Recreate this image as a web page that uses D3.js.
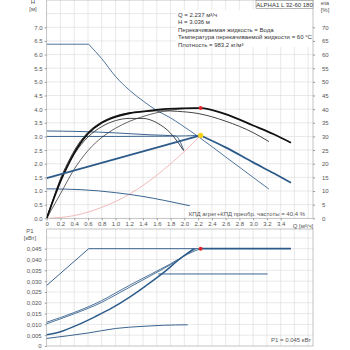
<!DOCTYPE html>
<html>
<head>
<meta charset="utf-8">
<script src="https://cdn.jsdelivr.net/npm/d3@7"></script>
<style>
  body { margin: 0; background: #fff; }
  svg { display: block; font-family: "Liberation Sans", Arial, sans-serif; }
  .tick text { fill: #555; font-size: 6px; }
  .tick line { stroke: #999; }
  .domain { display: none; }
  .info { fill: #333; font-size: 6px; }
</style>
</head>
<body>
<div id="chart"></div>
<script>
// ---- data ----
const qTicks   = [0, 0.2, 0.4, 0.6, 0.8, 1.0, 1.2, 1.4, 1.6, 1.8, 2.0, 2.2, 2.4, 2.6, 2.8, 3.0, 3.2, 3.4];
const qGrid    = [0.2, 0.4, 0.6, 0.8, 1.0, 1.2, 1.4, 1.6, 1.8, 2.0, 2.2, 2.4, 2.6, 2.8, 3.0, 3.2, 3.4, 3.6, 3.8];
const hTicks   = [0, 0.5, 1.0, 1.5, 2.0, 2.5, 3.0, 3.5, 4.0, 4.5, 5.0, 5.5, 6.0, 6.5, 7.0];
const hGrid    = [0.5, 1.0, 1.5, 2.0, 2.5, 3.0, 3.5, 4.0, 4.5, 5.0, 5.5, 6.0, 6.5, 7.0, 7.5];
const etaTicks = [0, 5, 10, 15, 20, 25, 30, 35, 40, 45, 50, 55, 60, 65, 70];
const pTicks   = [0, 0.005, 0.010, 0.015, 0.020, 0.025, 0.030, 0.035, 0.040, 0.045];
const pGrid    = [0.005, 0.010, 0.015, 0.020, 0.025, 0.030, 0.035, 0.040, 0.045, 0.050];

// H curves [Q m3/h, H m]
const hMax   = [[0, 6.38], [0.61, 6.38], [0.8, 5.85], [1.0, 5.2], [1.2, 4.7], [1.4, 4.3], [1.6, 3.95], [1.8, 3.68], [1.94, 3.45], [2.2, 3.0], [2.6, 2.25], [3.0, 1.5], [3.23, 1.07]];
const hCp32  = [[0, 3.2], [0.5, 3.18], [1.0, 3.13], [1.5, 3.06], [1.87, 3.02], [1.99, 2.5]];
const hCp30  = [[0, 3.0], [1.0, 3.0], [1.8, 3.01], [2.237, 3.036]];
const hPp    = [[0, 1.47], [2.237, 3.036]];
const hSel   = [[2.237, 3.036], [2.6, 2.6], [3.0, 2.05], [3.3, 1.65], [3.55, 1.30]];
const hMin   = [[0, 1.08], [0.5, 1.05], [1.0, 0.94], [1.4, 0.8], [1.7, 0.66], [2.08, 0.46]];
const hSys   = [[0, 0], [0.4, 0.1], [0.8, 0.4], [1.2, 0.88], [1.6, 1.58], [2.0, 2.45], [2.237, 3.036]];

// efficiency curves [Q, eta %]
const etaSel = [[0, 0], [0.1, 7], [0.2, 13.5], [0.3, 19], [0.45, 26], [0.6, 31], [0.8, 35], [1.0, 37.2], [1.2, 38.5], [1.45, 39.3], [1.7, 40], [1.95, 40.3], [2.237, 40.4], [2.6, 38.2], [3.0, 34], [3.3, 30.8], [3.55, 27.7]];
const etaB   = [[0, 0], [0.1, 7.5], [0.2, 14.5], [0.3, 20], [0.45, 26.8], [0.6, 31.5], [0.8, 35.3], [1.0, 37.5], [1.2, 38.6], [1.45, 39.2], [1.7, 39.4], [1.9, 39.2], [2.2, 38.4], [2.6, 35.6], [3.0, 31.4], [3.23, 28.1]];
const etaC   = [[0, 0], [0.1, 7.2], [0.2, 13.8], [0.4, 23.5], [0.6, 29.8], [0.8, 33.6], [1.0, 35.8], [1.2, 36.6], [1.4, 36.6], [1.6, 35], [1.8, 31.2], [1.99, 24.8]];
const etaD   = [[0, 0], [0.2, 9], [0.4, 18], [0.6, 24.8], [0.8, 29.6], [1.0, 33], [1.2, 35.5], [1.4, 37.3], [1.6, 38.7], [1.8, 39.6], [2.0, 40.2], [2.2, 40.4]];

// power curves [Q, P1 kW]
const pMax   = [[0, 0.028], [0.61, 0.045], [2.237, 0.045]];
const pSel   = [[2.237, 0.045], [3.55, 0.045]];
const pFlat  = [[1.62, 0.0333], [3.21, 0.0333]];
const pA     = [[0, 0.011], [0.4, 0.0155], [0.8, 0.021], [1.0, 0.0245], [1.2, 0.028], [1.5, 0.033], [1.8, 0.038], [2.1, 0.0437], [2.17, 0.045]];
const pB     = [[0, 0.0103], [0.4, 0.0149], [0.8, 0.0202], [1.0, 0.0236], [1.2, 0.0271], [1.5, 0.0323], [1.8, 0.0376], [2.05, 0.0425], [2.237, 0.045]];
const pC     = [[0, 0.0052], [0.2, 0.0066], [0.46, 0.0099], [0.7, 0.0135], [0.95, 0.0176], [1.2, 0.0225], [1.43, 0.0276], [1.72, 0.0345], [1.92, 0.0399], [2.14, 0.045]];
const pMin   = [[0, 0.0035], [0.3, 0.0047], [0.6, 0.006], [1.0, 0.0081], [1.4, 0.0091], [1.7, 0.0096], [2.05, 0.0098]];

const duty = { q: 2.237, h: 3.036, eta: 40.4, p: 0.045 };

const infoLines = [
  "Q = 2.237 м³/ч",
  "H = 3.036 м",
  "Перекачиваемая жидкость = Вода",
  "Температура перекачиваемой жидкости = 60 °C",
  "Плотность = 983.2 кг/м³"
];

// ---- layout ----
const W = 350, H = 350;
const svg = d3.select("#chart").append("svg").attr("width", W).attr("height", H);

const x    = d3.scaleLinear().domain([0, 3.87]).range([46.7, 313]);
const yH   = d3.scaleLinear().domain([0, 8]).range([218.3, 0]);
const yEta = d3.scaleLinear().domain([0, 80]).range([218.3, 0]);
const yP   = d3.scaleLinear().domain([0, 0.0541]).range([346, 229]);

const gridCol = "#dadada";
const blue = "#3b6590", blueThick = "#2c5b8a";

// grids
const grid = svg.append("g");
grid.selectAll(".vu").data(qGrid).join("line")
  .attr("x1", d => x(d)).attr("x2", d => x(d)).attr("y1", yH(8)).attr("y2", yH(0))
  .attr("stroke", gridCol).attr("stroke-width", 0.6);
grid.selectAll(".hu").data(hGrid).join("line")
  .attr("x1", x(0)).attr("x2", x.range()[1]).attr("y1", d => yH(d)).attr("y2", d => yH(d))
  .attr("stroke", gridCol).attr("stroke-width", 0.6);
grid.selectAll(".vl").data(qGrid).join("line")
  .attr("x1", d => x(d)).attr("x2", d => x(d)).attr("y1", yP.range()[1]).attr("y2", yP(0))
  .attr("stroke", gridCol).attr("stroke-width", 0.6);
grid.selectAll(".hl").data(pGrid).join("line")
  .attr("x1", x(0)).attr("x2", x.range()[1]).attr("y1", d => yP(d)).attr("y2", d => yP(d))
  .attr("stroke", gridCol).attr("stroke-width", 0.6);

// frames
svg.append("rect").attr("x", x(0)).attr("y", 0).attr("width", x.range()[1] - x(0)).attr("height", yH(0))
  .attr("fill", "none").attr("stroke", "#aaa").attr("stroke-width", 0.7);
svg.append("rect").attr("x", x(0)).attr("y", yP.range()[1]).attr("width", x.range()[1] - x(0)).attr("height", yP(0) - yP.range()[1])
  .attr("fill", "none").attr("stroke", "#aaa").attr("stroke-width", 0.7);

// info box (white background hides grid)
svg.append("rect").attr("x", 176).attr("y", 10).attr("width", 136).attr("height", 37).attr("fill", "#fff");
svg.append("g").selectAll("text").data(infoLines).join("text")
  .attr("class", "info").attr("x", 178).attr("y", (d, i) => 17 + i * 7.4).text(d => d);

svg.append("rect").attr("x", 256).attr("y", 0.5).attr("width", 57).attr("height", 8)
  .attr("fill", "#fff").attr("stroke", "#888").attr("stroke-width", 0.6);
svg.append("text").attr("class", "info").attr("x", 284.5).attr("y", 6.8).attr("text-anchor", "middle")
  .text("ALPHA1 L 32-60 180");

// axes
svg.append("g").attr("transform", `translate(${x(0)},0)`)
  .call(d3.axisLeft(yH).tickValues(hTicks).tickSize(2).tickPadding(2).tickFormat(d3.format(".1f")));
svg.append("g").attr("transform", `translate(${x.range()[1]},0)`)
  .call(d3.axisRight(yEta).tickValues(etaTicks).tickSize(2).tickPadding(7).tickFormat(d3.format("d")));
svg.append("g").attr("transform", `translate(0,${yH(0)})`)
  .call(d3.axisBottom(x).tickValues(qTicks).tickSize(2).tickPadding(1.5).tickFormat(d => d === 0 ? "0" : d3.format(".1f")(d)));
svg.append("g").attr("transform", `translate(${x(0)},0)`)
  .call(d3.axisLeft(yP).tickValues(pTicks).tickSize(2).tickPadding(3)
    .tickFormat(d => d === 0 ? "0" : d3.format(".3f")(d).replace(".", ",")));

const lab = (t, xx, yy, anchor) => svg.append("text").attr("x", xx).attr("y", yy)
  .attr("text-anchor", anchor || "middle").attr("fill", "#555").attr("font-size", 6).text(t);
lab("H", 33, 4);
lab("[м]", 33, 11);
lab("eta", 325, 5);
lab("[%]", 325, 12);
lab("Q [м³/ч]", 303, 228);
lab("P1", 30, 233);
lab("[кВт]", 30, 239.5);
lab("КПД агрег+КПД преобр. частоты = 40.4 %", 305, 216, "end");
lab("P1 = 0.045 кВт", 311, 342, "end");

// curves
const clipU = svg.append("clipPath").attr("id", "cu").append("rect")
  .attr("x", x(0)).attr("y", 0).attr("width", x.range()[1] - x(0)).attr("height", yH(0));
const gU = svg.append("g").attr("clip-path", "url(#cu)");
const gL = svg.append("g");

const lineH = d3.line().x(d => x(d[0])).y(d => yH(d[1])).curve(d3.curveMonotoneX);
const lineE = d3.line().x(d => x(d[0])).y(d => yEta(d[1])).curve(d3.curveMonotoneX);
const lineP = d3.line().x(d => x(d[0])).y(d => yP(d[1])).curve(d3.curveMonotoneX);
const lineLin = d3.line().x(d => x(d[0])).y(d => yH(d[1]));

function draw(g, gen, data, col, w) {
  g.append("path").attr("d", gen(data)).attr("fill", "none").attr("stroke", col).attr("stroke-width", w);
}

draw(gU, lineH, hSys, "#f0a8a8", 0.8);
draw(gU, lineLin, hMax.slice(0, 2), blue, 0.9);
draw(gU, lineH, hMax.slice(1), blue, 0.9);
draw(gU, lineH, hCp32, blue, 1);
draw(gU, lineH, hCp30, blue, 1);
draw(gU, lineH, hMin, blue, 1);
draw(gU, lineE, etaD, "#222", 0.7);
draw(gU, lineE, etaC, "#333", 0.9);
draw(gU, lineE, etaB, "#444", 1);
draw(gU, lineE, etaSel, "#111", 1.8);
draw(gU, lineLin, hPp, blueThick, 1.8);
draw(gU, lineH, hSel, blueThick, 1.8);

draw(gL, d3.line().x(d => x(d[0])).y(d => yP(d[1])), pMax, blue, 1);
draw(gL, lineP, pFlat, blue, 1);
draw(gL, lineP, pA, blue, 0.9);
draw(gL, lineP, pB, blue, 0.9);
draw(gL, lineP, pC, blueThick, 1.4);
draw(gL, lineP, pMin, blue, 1);
draw(gL, d3.line().x(d => x(d[0])).y(d => yP(d[1])), pSel, blueThick, 1.8);

// duty point markers
svg.append("circle").attr("cx", x(duty.q)).attr("cy", yEta(duty.eta)).attr("r", 2).attr("fill", "#e3262b");
svg.append("circle").attr("cx", x(duty.q)).attr("cy", yH(duty.h)).attr("r", 2.6).attr("fill", "#f6d21c");
svg.append("circle").attr("cx", x(duty.q)).attr("cy", yP(duty.p)).attr("r", 2).attr("fill", "#e3262b");
</script>
</body>
</html>
